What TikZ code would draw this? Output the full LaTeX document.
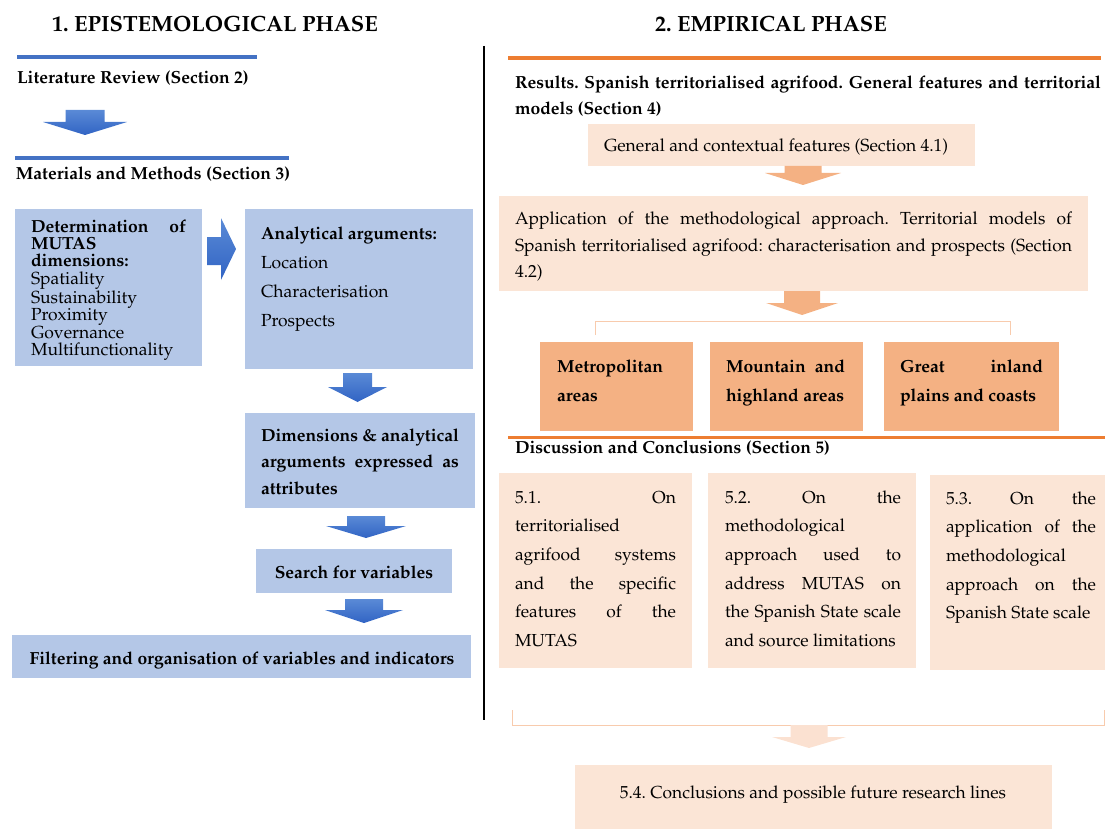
\documentclass[tikz,border=0pt]{standalone}
\usepackage[T1]{fontenc}
\usepackage{mathpazo}
\frenchspacing
\definecolor{bluebox}{HTML}{B4C7E7}
\definecolor{blueline}{HTML}{4472C4}
\definecolor{bluetop}{HTML}{5A8AD6}
\definecolor{bluebot}{HTML}{3164C4}
\definecolor{orline}{HTML}{ED7D31}
\definecolor{peach}{HTML}{FBE5D6}
\definecolor{orbox}{HTML}{F4B183}
\definecolor{bracketc}{HTML}{F8CBAD}
\definecolor{palear}{HTML}{FBE1D1}
\newcommand\jline[1]{\makebox[\linewidth][s]{#1}}
% #1 style, #2 cx, #3 ytop, #4 headw, #5 shaftw, #6 shafth, #7 headh
\newcommand\blockdn[7]{%
  \path[#1] (#2-#5/2,#3) -- (#2+#5/2,#3) -- (#2+#5/2,#3+#6) -- (#2+#4/2,#3+#6)
    -- (#2,#3+#6+#7) -- (#2-#4/2,#3+#6) -- (#2-#5/2,#3+#6) -- cycle;}
% #1 name, #2 colour, #3 x1, #4 y1, #5 x2, #6 y2
\newcommand\boxnode[6]{%
  \node[boxst, fill=#2, minimum width={(#5-#3)*1pt}, minimum height={(#6-#4)*1pt}] (#1) at (#3,#4) {};}
\begin{document}
\begin{tikzpicture}[x=1pt,y=-1pt,
  boxst/.style={draw=none, inner sep=0pt, outer sep=0pt, anchor=north west},
  txt/.style={inner sep=0pt, outer sep=0pt, anchor=base west},
  ttl/.style={inner sep=0pt, anchor=base, font=\fontsize{22}{26}\selectfont\bfseries},
  head/.style={txt, font=\fontsize{17.5}{20}\selectfont\bfseries},
  bluearrow/.style={top color=bluetop, bottom color=bluebot, draw=none},
  orarrow/.style={fill=orbox, draw=none},
  brk/.style={draw=bracketc, line width=1pt}]
\useasboundingbox (0,0) rectangle (1105,829);

% titles
\node[ttl] (t1) at (215,32) {1. EPISTEMOLOGICAL PHASE};
\node[ttl] (t2) at (771,32) {2. EMPIRICAL PHASE};

% separator
\coordinate (vtop) at (484,46);
\coordinate (vbot) at (484,720);
\draw[line width=1.2pt] (vtop) -- (vbot);

% ---------- left column ----------
\coordinate (bl1a) at (17,57); \coordinate (bl1b) at (257,57);
\draw[blueline, line width=4pt] (bl1a) -- (bl1b);
\node[head] (lit) at (17,84) {Literature Review (Section 2)};
\blockdn{bluearrow}{85}{110}{84}{39}{12}{13}
\coordinate (bl2a) at (15,158); \coordinate (bl2b) at (289,158);
\draw[blueline, line width=4pt] (bl2a) -- (bl2b);
\node[head] (mat) at (16,180) {Materials and Methods (Section 3)};

\boxnode{b1}{bluebox}{15}{209}{202}{366}
\boxnode{b2}{bluebox}{245}{209}{473}{369}
\boxnode{b3}{bluebox}{245}{413}{475}{508}
\boxnode{b4}{bluebox}{256}{549}{452}{593}
\boxnode{b5}{bluebox}{12}{635}{471}{678}

\node[txt] (b1t) at (31,232) {\parbox[t]{155pt}{\fontsize{17.5}{17.5}\selectfont
  \textbf{\jline{Determination of}}\\
  \textbf{MUTAS}\\
  \textbf{dimensions:}\\
  Spatiality\\ Sustainability\\ Proximity\\ Governance\\ Multifunctionality}};

\path[bluearrow] (207,237) -- (221,237) -- (221,218) -- (236,249) -- (221,280) -- (221,265) -- (207,265) -- cycle;

\node[txt] (b2t) at (261,239) {\parbox[t]{200pt}{\fontsize{17.5}{29}\selectfont
  \textbf{Analytical arguments:}\\ Location\\ Characterisation\\ Prospects}};

\blockdn{bluearrow}{357.5}{373}{59}{29}{14}{15}

\node[txt] (b3t) at (261,441) {\parbox[t]{198pt}{\fontsize{17.5}{26.5}\selectfont\bfseries
  \jline{Dimensions \& analytical}\\
  \jline{arguments expressed as}\\
  attributes}};

\blockdn{bluearrow}{366}{516}{80}{38}{10}{12}
\node[txt, anchor=base, font=\fontsize{17.5}{20}\selectfont\bfseries] (b4t) at (354,578) {Search for variables};
\blockdn{bluearrow}{364}{599}{78}{38}{11}{13}
\node[txt, anchor=base, font=\fontsize{17.5}{20}\selectfont\bfseries] (b5t) at (242,664) {Filtering and organisation of variables and indicators};

% ---------- right column ----------
\coordinate (ol1a) at (508,58); \coordinate (ol1b) at (1101,58);
\draw[orline, line width=3.5pt] (ol1a) -- (ol1b);
\node[txt] (res) at (515,89) {\parbox[t]{586pt}{\fontsize{17.5}{26}\selectfont\bfseries
  \jline{Results. Spanish territorialised agrifood. General features and territorial}\\
  models (Section 4)}};

\boxnode{r1}{peach}{588}{124}{975}{166}
\node[txt, font=\fontsize{17.5}{20}\selectfont] (r1t) at (604,152) {General and contextual features (Section 4.1)};
\blockdn{orarrow}{803}{166}{76}{37}{7}{12}

\boxnode{r2}{peach}{499}{196}{1088}{291}
\node[txt] (r2t) at (515,225) {\parbox[t]{557pt}{\fontsize{17.5}{26}\selectfont
  \jline{Application of the methodological approach. Territorial models of}\\
  \jline{Spanish territorialised agrifood: characterisation and prospects (Section}\\
  4.2)}};
\blockdn{orarrow}{802}{291}{72}{36}{12}{12}

\coordinate (bt1) at (595,335); \coordinate (bt2) at (595,321);
\coordinate (bt3) at (1010,321); \coordinate (bt4) at (1010,335);
\draw[brk] (bt1) -- (bt2) -- (bt3) -- (bt4);

\boxnode{ma}{orbox}{540}{342}{693}{431}
\boxnode{mb}{orbox}{710}{342}{863}{431}
\boxnode{mc}{orbox}{884}{342}{1059}{431}
\node[txt] (mat1) at (557,372) {\parbox[t]{125pt}{\fontsize{17.5}{29}\selectfont\bfseries
  Metropolitan\\ areas}};
\node[txt] (mbt) at (726,372) {\parbox[t]{119pt}{\fontsize{17.5}{29}\selectfont\bfseries
  \jline{Mountain and}\\ highland areas}};
\node[txt] (mct) at (900,372) {\parbox[t]{143pt}{\fontsize{17.5}{29}\selectfont\bfseries
  \jline{Great inland}\\ plains and coasts}};

\coordinate (ol2a) at (508,437); \coordinate (ol2b) at (1105,437);
\draw[orline, line width=3pt] (ol2a) -- (ol2b);
\node[head] (disc) at (515,453) {Discussion and Conclusions (Section 5)};

\boxnode{d1}{peach}{499}{473}{692}{668}
\boxnode{d2}{peach}{708}{473}{916}{668}
\boxnode{d3}{peach}{930}{475}{1105}{670}
\node[txt] (d1t) at (515,503) {\parbox[t]{161pt}{\fontsize{17.4}{28.7}\selectfont
  \jline{5.1. On}\\ territorialised\\ \jline{agrifood systems}\\ \jline{and the specific}\\
  \jline{features of the}\\ MUTAS}};
\node[txt] (d2t) at (725,503) {\parbox[t]{176pt}{\fontsize{17.4}{28.7}\selectfont
  \jline{5.2. On the}\\ methodological\\ \jline{approach used to}\\ \jline{address MUTAS on}\\
  \jline{the Spanish State scale}\\ and source limitations}};
\node[txt] (d3t) at (946,504) {\parbox[t]{150pt}{\fontsize{17.4}{28.7}\selectfont
  \jline{5.3. On the}\\ \jline{application of the}\\ methodological\\ \jline{approach on the}\\
  Spanish State scale}};

\coordinate (bb1) at (512,710); \coordinate (bb2) at (512,725);
\coordinate (bb3) at (1104,725); \coordinate (bb4) at (1104,710);
\draw[brk] (bb1) -- (bb2) -- (bb3) -- (bb4);
\blockdn{fill=palear}{809}{725}{74}{37}{12}{11}

\boxnode{d4}{peach}{575}{765}{1052}{829}
\node[txt, anchor=base, font=\fontsize{17.4}{20}\selectfont] (d4t) at (813,798) {5.4. Conclusions and possible future research lines};
\end{tikzpicture}
\end{document}
